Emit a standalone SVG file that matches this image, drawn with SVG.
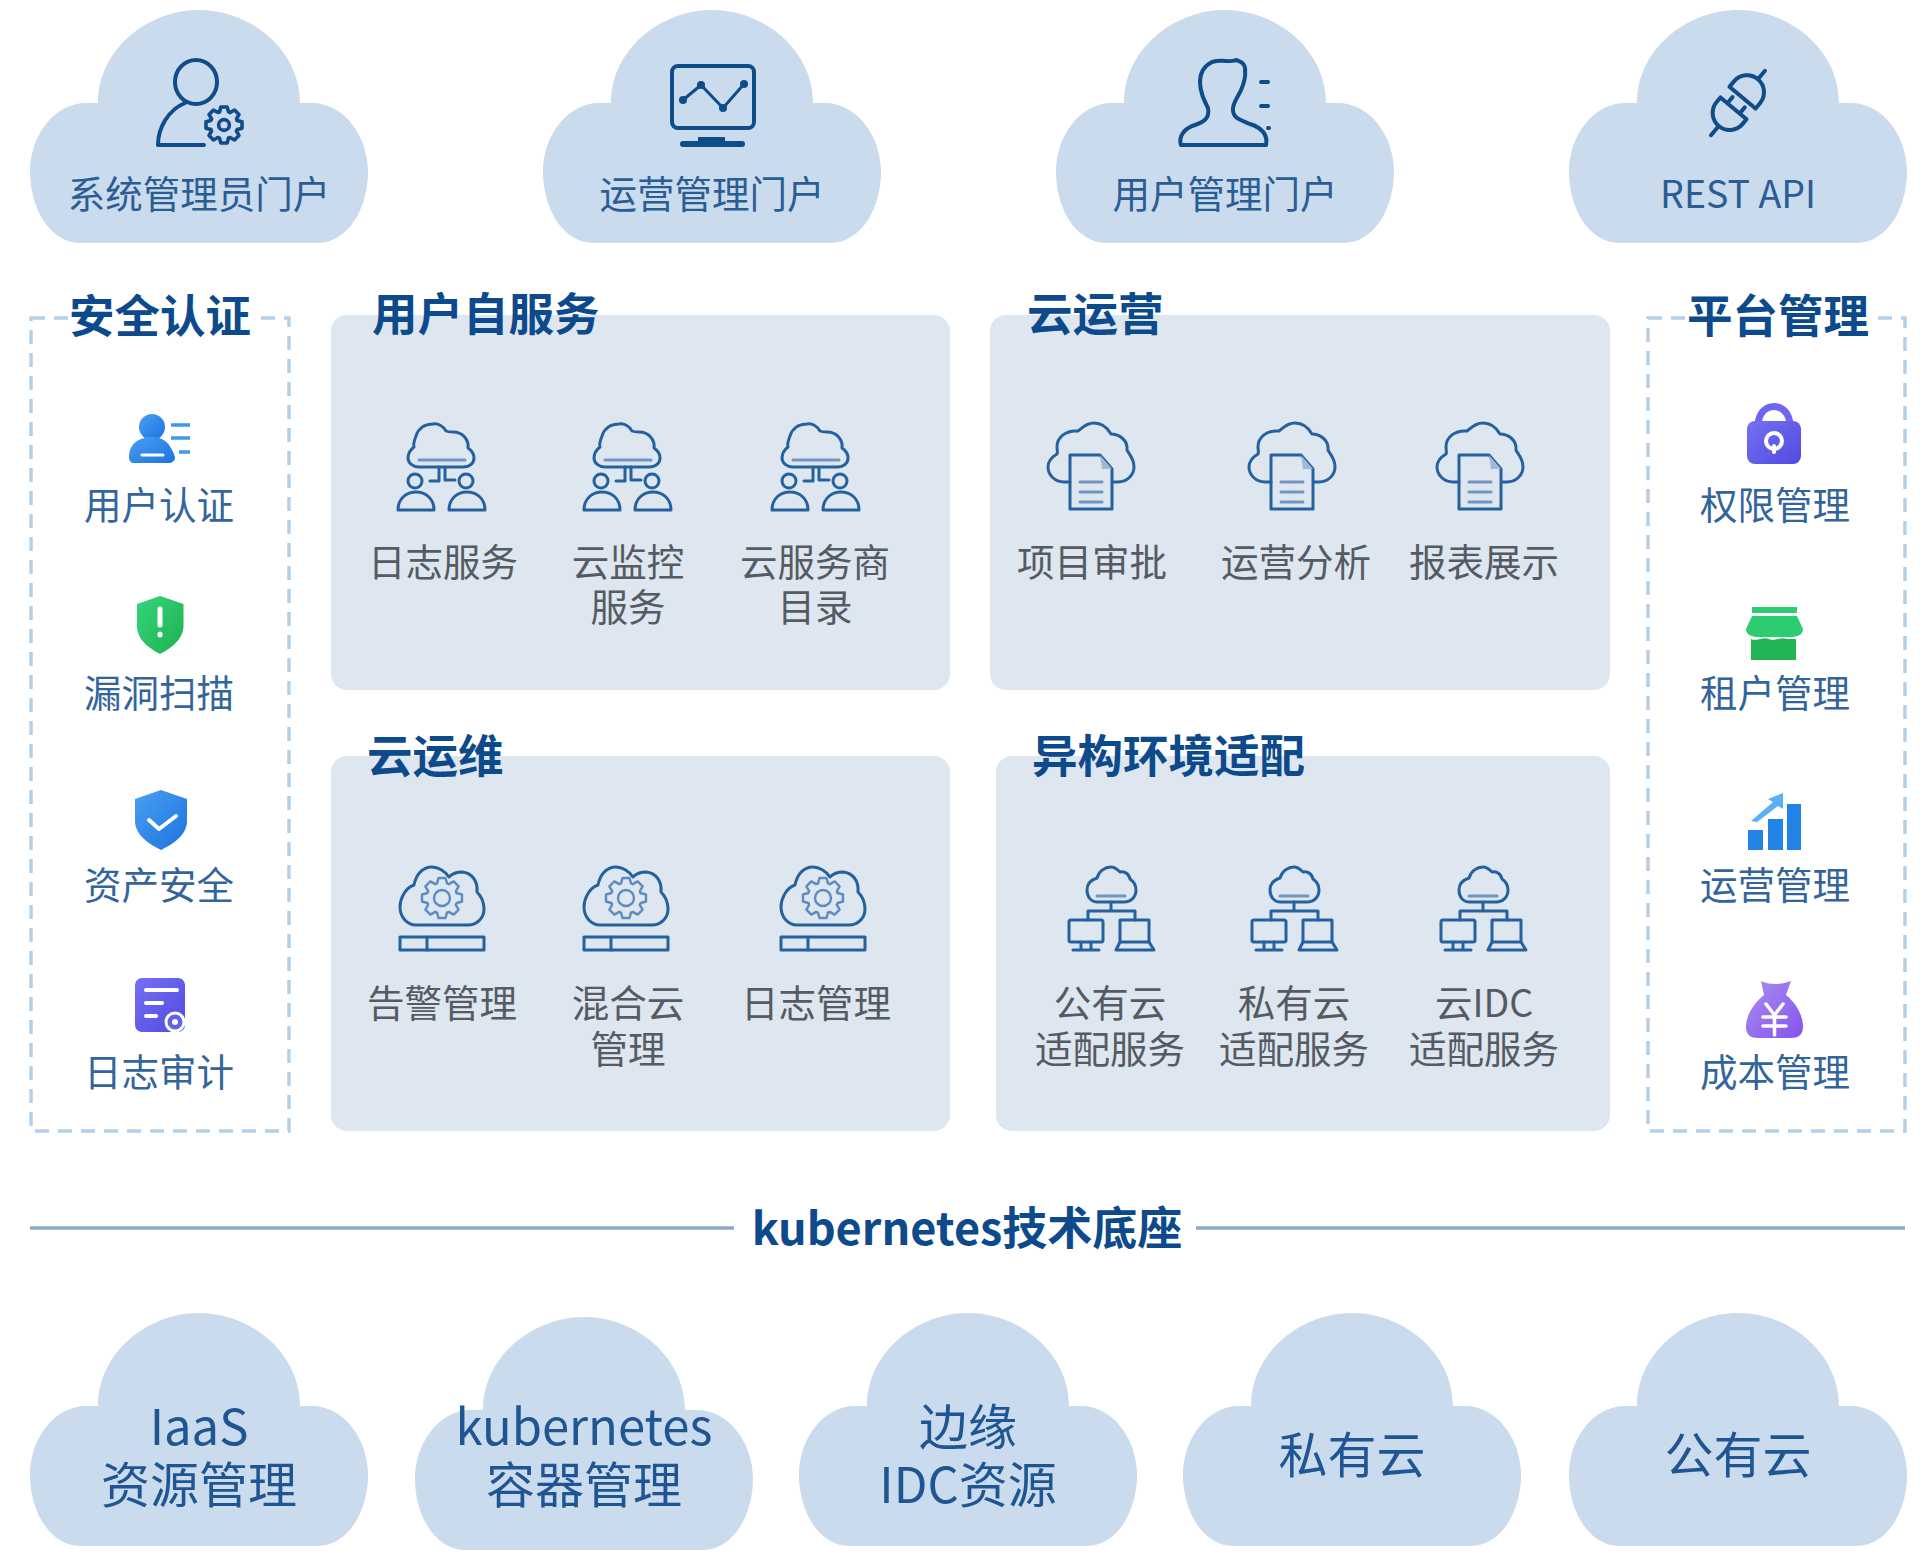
<svg xmlns="http://www.w3.org/2000/svg" width="1930" height="1562" viewBox="0 0 1930 1562">
<style>
text{font-family:"Noto Sans CJK SC","Noto Sans",sans-serif;text-anchor:middle}
.cl{fill:#c9dbed}
.pn{fill:#dee6f0}
.ct{font-size:37.500px;fill:#2a5d94}
.cb{font-size:49px;fill:#1f5592}
.tt{font-size:45.500px;font-weight:700;fill:#0d4a8c}
.tl{text-anchor:start}
.pl{font-size:37.500px;fill:#555b62}
.sl{font-size:37.500px;fill:#33659c}
.ds{fill:none;stroke:#b4cfe8;stroke-width:3.5;stroke-dasharray:14 9}
.dv{stroke:#8ca8cb;stroke-width:3.5}
.i{fill:none;stroke:#0f4c8a;stroke-width:4;stroke-linecap:round;stroke-linejoin:round}
.p{fill:none;stroke:#24619f;stroke-width:3;stroke-linecap:round;stroke-linejoin:round}
.q{fill:none;stroke:#6f95c0;stroke-width:3;stroke-linecap:round}
.w{fill:none;stroke:#fff;stroke-linecap:round;stroke-linejoin:round}
</style>
<defs>
<linearGradient id="gb" x1="0" y1="0" x2="1" y2="1"><stop offset="0" stop-color="#4aa0f2"/><stop offset="1" stop-color="#1c72de"/></linearGradient>
<linearGradient id="gg" x1="0" y1="0" x2="1" y2="1"><stop offset="0" stop-color="#36d47c"/><stop offset="1" stop-color="#1fb04f"/></linearGradient>
<linearGradient id="gp" x1="0" y1="0" x2="1" y2="1"><stop offset="0" stop-color="#7670f2"/><stop offset="1" stop-color="#4f4be0"/></linearGradient>
<linearGradient id="gv" x1="0" y1="0" x2="1" y2="1"><stop offset="0" stop-color="#ab8cf2"/><stop offset="1" stop-color="#8455ec"/></linearGradient>
<path id="cloud" d="M-118 243C-150 243-169 207-169 172C-169 135-144 103-113 103H-101C-101 50-52 10 0 10C52 10 101 50 101 103H113C144 103 169 135 169 172C169 207 150 243 118 243Z"/>
<path id="gt" d="M-5-14.67L-3.5-20H3.5L5-14.67A15.5 15.5 0 0 1 6.84-13.9"/>
<g id="gear">
<use href="#gt"/><use href="#gt" transform="rotate(45)"/><use href="#gt" transform="rotate(90)"/><use href="#gt" transform="rotate(135)"/><use href="#gt" transform="rotate(180)"/><use href="#gt" transform="rotate(225)"/><use href="#gt" transform="rotate(270)"/><use href="#gt" transform="rotate(315)"/>
</g>
<g id="icA" class="p">
<path d="M-22 44H22C29 44 33 40 33 35C33 30 30 27 27 25C28 17 22 9 12 9C9 9 7 9 5 8C2 3-3 0-8 1C-17 1-23 6-25 13C-27 18-28 21-27 24C-31 27-33 31-33 35C-33 40-28 44-22 44Z"/>
<path class="q" d="M-22 37H24"/>
<path d="M-2 44V58H-11M4 44V57H14"/>
<circle cx="-26" cy="58" r="7"/><circle cx="25" cy="58" r="7"/>
<path d="M-43 87C-43 63-7 63-7 87ZM8 87C8 63 44 63 44 87Z"/>
</g>
<g id="icB" class="p">
<path d="M22 59H27C36 59 43 52 43 44C43 35 37 30 36 27C37 17 28 11 20 11C16 4 10 0 3 0C-5 0-9 5-13 8C-25 7-34 14-34 24C-34 27-33 29-34 31C-39 34-43 38-43 44C-43 52-36 59-27 59H-21"/>
<path d="M-21 32H9L21 46V86H-21Z"/>
<path d="M9 32L21 46H11Z" fill="#9fb9d6" stroke="none"/>
<path class="q" d="M-11 59H11M-11 69H11M-11 79H11"/>
</g>
<g id="icC" class="p">
<path d="M-26 58H26C35 58 42 51 42 42C42 33 38 28 35 25C36 14 30 6 20 5C15 5 10 7 7 10C3 4-4 0-10 0C-20 0-26 8-28 18C-37 21-42 32-42 40C-42 50-35 58-26 58Z"/>
<g transform="translate(0 31)" stroke="#5c8cbf" stroke-width="2.4"><use href="#gear"/><circle r="8"/></g>
<rect x="-42" y="70" width="84" height="13"/><path d="M-15 70V83"/>
</g>
<g id="icD" class="p">
<path d="M-13 35H13C20 35 25 30 25 23C25 17 22 14 19 12C18 6 12 4 9 5C6 2 3 0 0 0C-6 0-12 4-14 11C-20 13-24 17-24 23C-24 30-20 35-13 35Z"/>
<path class="q" d="M-14 29H14" stroke-width="2"/>
<path d="M0 35V44M-23 53V44H24V53"/>
<rect x="-42" y="53" width="34" height="22" rx="2"/><path d="M-30 75V82M-20 75V82M-38 83H-12"/>
<rect x="9" y="53" width="29" height="22"/><path d="M9 75L5 83H43L38 75"/>
</g>
</defs>
<rect width="1930" height="1562" fill="#fff"/>

<g id="connectors">
<line class="dv" x1="30" y1="1228" x2="734" y2="1228"/>
<line class="dv" x1="1196" y1="1228" x2="1905" y2="1228"/>
</g>

<g id="portal-admin"><use class="cl" href="#cloud" x="199"/>
<g class="i"><ellipse cx="196" cy="82" rx="21" ry="22"/><path d="M185 103C168 110 158 128 158 145H204"/><g transform="translate(224 125) scale(.9)" stroke-width="4"><use href="#gear"/><circle r="6"/></g></g>
<text class="ct" x="199" y="208">系统管理员门户</text></g>

<g id="portal-ops"><use class="cl" href="#cloud" x="712"/>
<g class="i"><rect x="672" y="66" width="82" height="62" rx="6"/><path d="M683 100L701 85L723 108L744 84" stroke-width="3"/></g>
<g fill="#0f4c8a"><circle cx="683" cy="100" r="4"/><circle cx="701" cy="85" r="4"/><circle cx="723" cy="108" r="4"/><circle cx="744" cy="84" r="4"/><rect x="698" y="137" width="27" height="5"/><rect x="680" y="141" width="65" height="6" rx="3"/></g>
<text class="ct" x="712" y="208">运营管理门户</text></g>

<g id="portal-user"><use class="cl" href="#cloud" x="1225"/>
<g class="i"><path d="M1181 145H1266C1268 135 1262 128 1250 124C1240 120 1232 118 1233 108C1234 100 1240 95 1243 85C1245 78 1246 75 1245 72C1246 65 1243 62 1236 60C1230 63 1222 59 1212 62C1204 66 1200 72 1200 82C1200 92 1204 100 1208 108C1210 118 1204 122 1195 125C1185 128 1178 136 1181 145Z"/><path d="M1261 82H1268M1261 106H1268M1268 128H1269"/></g>
<text class="ct" x="1225" y="208">用户管理门户</text></g>

<g id="portal-api"><use class="cl" href="#cloud" x="1738"/>
<g class="i" transform="translate(1738 103) rotate(-50)" stroke-width="5"><path d="M-7-17H-13A17 17 0 0 0-13 17H-7ZM-7-8H1M-7 8H1M-30 0H-42"/><path d="M7-17H14A17 17 0 0 1 14 17H7ZM31 0H42"/></g>
<text class="ct" x="1738" y="208">REST API</text></g>

<g id="group-security">
<rect class="ds" x="31" y="318" width="258" height="813"/>
<rect x="68" y="296" width="188" height="44" fill="#fff"/>
<text class="tt" x="160" y="333">安全认证</text>
<g id="sec-auth"><g fill="url(#gb)" transform="translate(0 -1)"><circle cx="152" cy="428" r="13"/><path d="M129 458C129 444 140 438 152 438C164 438 170 444 175 458C175 462 172 464 168 464H134C131 464 129 462 129 458Z"/></g><path class="w" stroke-width="3" d="M142 455H163"/><path d="M171 425H190M171 438H190M179 452H190" stroke="#3f97ee" stroke-width="3.5" fill="none"/><text class="sl" x="159" y="519">用户认证</text></g>
<g id="sec-scan" ><g transform="translate(1 -2)"><path fill="url(#gg)" d="M159 598L182.500 606V628C182 642 170 650 159 656C148 650 136 642 136 628V606Z"/><path class="w" stroke-width="5" d="M159 611V627M159 636V637"/></g><text class="sl" x="159" y="707">漏洞扫描</text></g>
<g id="sec-asset"><g transform="translate(1 -5)"><path fill="url(#gb)" d="M160 795L186 804V826C186 840 172 849 160 855C148 849 134 840 134 826V804Z"/><path class="w" stroke-width="4" d="M148 825L158 834L175 821"/></g><text class="sl" x="159" y="899">资产安全</text></g>
<g id="sec-log"><g transform="translate(1 -5)"><rect x="134" y="983" width="50" height="54" rx="7" fill="url(#gp)"/><path class="w" stroke-width="4" d="M145 995H176M145 1008H161M145 1021H155"/><circle cx="174" cy="1027" r="9" fill="#6460ee" stroke="#fff" stroke-width="3"/><circle cx="174" cy="1027" r="3" fill="#fff"/></g><text class="sl" x="159" y="1086">日志审计</text></g>
</g>

<g id="group-selfservice">
<rect class="pn" x="331" y="315" width="619" height="375" rx="16"/>
<text class="tt tl" x="372" y="331">用户自服务</text>
<g id="ss-log"><use href="#icA" x="441" y="423"/><text class="pl" x="443" y="576">日志服务</text></g>
<g id="ss-monitor"><use href="#icA" x="627" y="423"/><text class="pl" x="628" y="576">云监控</text><text class="pl" x="628" y="621">服务</text></g>
<g id="ss-catalog"><use href="#icA" x="815" y="423"/><text class="pl" x="815" y="576">云服务商</text><text class="pl" x="815" y="621">目录</text></g>
</g>

<g id="group-operation">
<rect class="pn" x="990" y="315" width="620" height="375" rx="16"/>
<text class="tt tl" x="1027" y="331">云运营</text>
<g id="op-approve"><use href="#icB" x="1091" y="423"/><text class="pl" x="1092" y="576">项目审批</text></g>
<g id="op-analysis"><use href="#icB" x="1292" y="423"/><text class="pl" x="1296" y="576">运营分析</text></g>
<g id="op-report"><use href="#icB" x="1480" y="423"/><text class="pl" x="1484" y="576">报表展示</text></g>
</g>

<g id="group-maintenance">
<rect class="pn" x="331" y="756" width="619" height="375" rx="16"/>
<text class="tt tl" x="367" y="773">云运维</text>
<g id="mt-alert"><use href="#icC" x="442" y="867"/><text class="pl" x="442" y="1017">告警管理</text></g>
<g id="mt-hybrid"><use href="#icC" x="626" y="867"/><text class="pl" x="628" y="1017">混合云</text><text class="pl" x="628" y="1063">管理</text></g>
<g id="mt-log"><use href="#icC" x="823" y="867"/><text class="pl" x="816" y="1017">日志管理</text></g>
</g>

<g id="group-adapt">
<rect class="pn" x="996" y="756" width="614" height="375" rx="16"/>
<text class="tt tl" x="1032" y="773">异构环境适配</text>
<g id="ad-public"><use href="#icD" x="1111" y="867"/><text class="pl" x="1110" y="1017">公有云</text><text class="pl" x="1110" y="1063">适配服务</text></g>
<g id="ad-private"><use href="#icD" x="1294" y="867"/><text class="pl" x="1294" y="1017">私有云</text><text class="pl" x="1294" y="1063">适配服务</text></g>
<g id="ad-idc"><use href="#icD" x="1483" y="867"/><text class="pl" x="1484" y="1017">云IDC</text><text class="pl" x="1484" y="1063">适配服务</text></g>
</g>

<g id="group-platform">
<rect class="ds" x="1648" y="318" width="257" height="813"/>
<rect x="1685" y="296" width="186" height="44" fill="#fff"/>
<text class="tt" x="1778" y="333">平台管理</text>
<g id="pf-perm"><path d="M1758 426C1758 400 1790 400 1790 426" fill="none" stroke="#6f66f0" stroke-width="7"/><rect x="1747" y="421" width="54" height="43" rx="8" fill="url(#gp)"/><circle cx="1774" cy="441" r="8" fill="none" stroke="#fff" stroke-width="4"/><path class="w" stroke-width="4" d="M1774 446V452"/><text class="sl" x="1775" y="519">权限管理</text></g>
<g id="pf-tenant"><g transform="translate(1 -3)"><rect x="1751" y="610" width="45" height="6" fill="#2ecc71"/><path fill="#2ecc71" d="M1751 619H1796L1802 632C1802 638 1796 640 1790 640H1757C1751 640 1745 638 1745 632Z"/><path fill="#22b455" d="M1750 642C1756 645 1762 639 1768 642C1774 645 1780 639 1786 642L1795 642V663H1750Z"/></g><text class="sl" x="1775" y="707">租户管理</text></g>
<g id="pf-ops"><g transform="translate(1 -5)"><path fill="#5ab0f5" d="M1750 826L1772 807L1767 804L1782 798L1782 814L1777 811L1756 827Z"/><g fill="#2384e8"><rect x="1747" y="835" width="15" height="20"/><rect x="1767" y="824" width="15" height="31"/><rect x="1786" y="809" width="14" height="46"/></g></g><text class="sl" x="1775" y="899">运营管理</text></g>
<g id="pf-cost"><g transform="translate(1 -5)"><path fill="url(#gv)" d="M1760 986C1768 990 1780 990 1790 986L1785 1000C1795 1008 1802 1020 1802 1032C1802 1040 1797 1043 1790 1043H1757C1750 1043 1745 1040 1745 1032C1745 1020 1753 1008 1763 1000Z"/><path class="w" stroke-width="3.500" d="M1765 1009L1773.500 1020L1782 1009M1762 1022H1785M1762 1031H1785M1773.500 1020V1040"/></g><text class="sl" x="1775" y="1086">成本管理</text></g>
</g>

<g id="heading-k8s"><text class="tt" x="967" y="1245" style="font-size:45px">kubernetes技术底座</text></g>

<g id="base-iaas"><use class="cl" href="#cloud" x="199" y="1303"/><text class="cb" x="199" y="1445">IaaS</text><text class="cb" x="199" y="1503">资源管理</text></g>
<g id="base-k8s"><use class="cl" href="#cloud" x="584" y="1307"/><text class="cb" x="584" y="1445">kubernetes</text><text class="cb" x="584" y="1503">容器管理</text></g>
<g id="base-edge"><use class="cl" href="#cloud" x="968" y="1303"/><text class="cb" x="968" y="1445">边缘</text><text class="cb" x="968" y="1503">IDC资源</text></g>
<g id="base-private"><use class="cl" href="#cloud" x="1352" y="1303"/><text class="cb" x="1352" y="1473">私有云</text></g>
<g id="base-public"><use class="cl" href="#cloud" x="1738" y="1303"/><text class="cb" x="1738" y="1473">公有云</text></g>
</svg>
